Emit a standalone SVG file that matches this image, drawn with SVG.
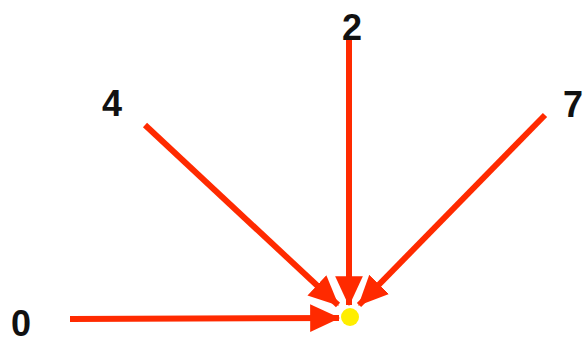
<svg xmlns="http://www.w3.org/2000/svg" width="588" height="344" viewBox="0 0 588 344">
<style>
.lbl{font-family:"Liberation Sans",Arial,sans-serif;font-weight:bold;font-size:36px;fill:#111;text-anchor:middle}
.edge{stroke:#ff2a00;stroke-width:6;fill:none;marker-end:url(#ah)}
</style>
<defs>
<marker id="ah" markerUnits="userSpaceOnUse" markerWidth="30" markerHeight="30" viewBox="0 0 26 26" refX="25" refY="13" orient="auto">
<path d="M0,1 L26,13 L0,25 Z" fill="#ff2a00"/>
</marker>
</defs>
<rect width="588" height="344" fill="#fff"/>
<g id="edges">
<line class="edge" x1="70" y1="319" x2="339" y2="318"/>
<line class="edge" x1="349" y1="40" x2="349" y2="305"/>
<line class="edge" x1="145" y1="125" x2="338" y2="305"/>
<line class="edge" x1="545" y1="115" x2="359" y2="305"/>
</g>
<g id="target"><circle cx="350" cy="317" r="9" fill="#ffee00"/></g>
<g id="n0"><text class="lbl" x="21" y="336">0</text></g>
<g id="n4"><text class="lbl" x="112" y="116">4</text></g>
<g id="n2"><text class="lbl" x="352" y="40">2</text></g>
<g id="n7"><text class="lbl" x="573" y="117">7</text></g>
</svg>
